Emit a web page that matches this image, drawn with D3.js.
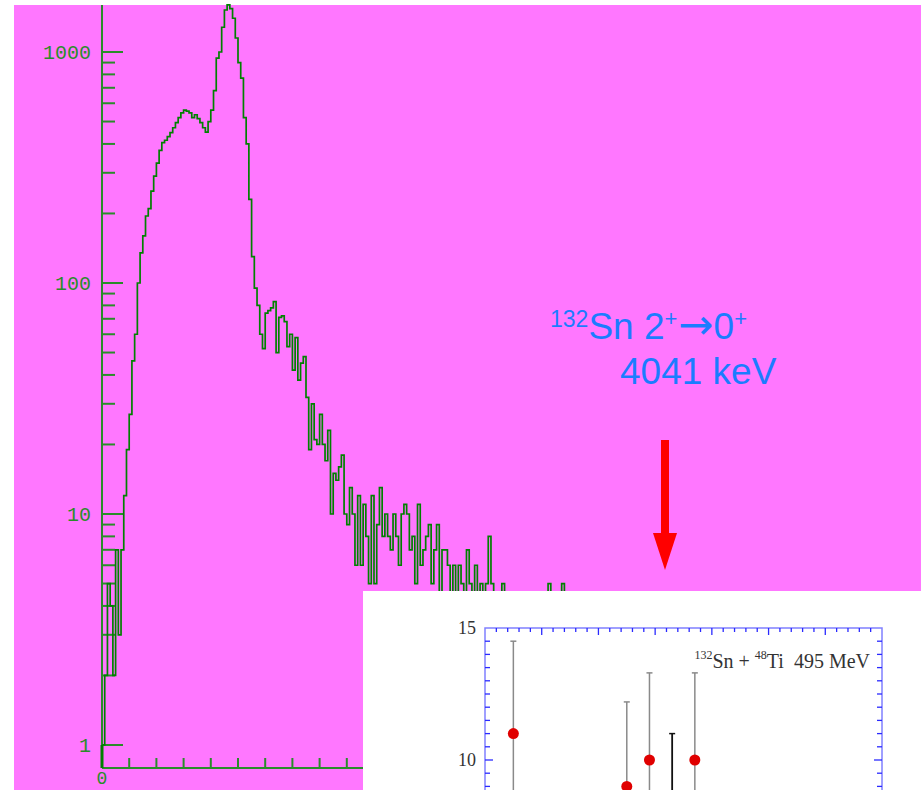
<!DOCTYPE html>
<html><head><meta charset="utf-8">
<script src="https://cdn.jsdelivr.net/npm/d3@7"></script>
<style>html,body{margin:0;padding:0;background:#fff;} svg{display:block;}</style>
</head><body>
<svg id="chart" width="921" height="790"></svg>
<script>
// Gamma-ray energy spectrum, counts per 20 keV bin starting at 0 (x in MeV)
const binWidth = 0.02;
const counts = [
  1, 2, 5, 4, 2, 7, 3, 7, 12, 19,
  27, 46, 60, 100, 135, 160, 195, 210, 250, 290,
  330, 375, 405, 415, 430, 448, 470, 495, 520, 545,
  560, 555, 545, 520, 535, 515, 495, 470, 450, 500,
  560, 680, 940, 1000, 1280, 1520, 1600, 1540, 1400, 1150,
  900, 770, 520, 400, 230, 130, 95, 80, 60, 52,
  74, 76, 78, 83, 50, 71, 72, 68, 53, 60,
  42, 58, 38, 45, 48, 32, 19, 30, 21, 20,
  27, 20, 17, 23, 10, 15, 14, 16, 18, 10,
  9, 13, 10, 6, 12, 6, 11, 8, 5, 12,
  5, 9, 13, 8, 10, 8, 7, 10, 8, 6,
  10, 11, 10, 7, 8, 5, 11, 6, 7, 8,
  9, 5, 7, 9, 4, 7, 7, 6, 4, 6,
  4, 6, 5, 3, 7, 5, 4, 6, 3, 5,
  4, 5, 8, 5, 3, 4, 2, 5, 3, 2,
  3, 2, 3, 2, 3, 1, 2, 3, 2, 1,
  2, 3, 2, 1, 5, 2, 1, 2, 3, 5,
  1, 2, 1, 2, 1
];
const yMajorTicks = [1, 10, 100, 1000];
const yTickLabels = ["1", "10", "100", "1000"];
const xMajorTicks = [0];
const xTickLabels = ["0"];

// Inset: counts per 40 keV bin around the 4041 keV line
const insetEnergy = [3750, 3950, 3990, 4070];
const insetCounts = [11, 9, 10, 10];
const insetUpper = [14.5, 12.2, 13.3, 13.3];
const insetLineEnergy = [4030];
const insetLineTop = [11.0];
const insetYTickLabels = ["10", "15"];
const insetYTickValues = [10, 15];

const W = 921, H = 790;
const pink = "#ff77ff";
const axisGreen = "#2a8c2a";
const histGreen = "#008000";
const blue = "#1b7cff";

const svg = d3.select("#chart");

// page background
svg.append("rect").attr("width", W).attr("height", H).attr("fill", "#fff");
svg.append("rect").attr("x", 14).attr("y", 5).attr("width", W - 14).attr("height", H - 5).attr("fill", pink);

// main scales
const x = d3.scaleLinear().domain([0, 2]).range([102, 374]);
const y = d3.scaleLog().domain([1, 1000]).range([745, 52]);
const yFloor = 768;

// axes
const gAx = svg.append("g").attr("stroke", axisGreen).attr("stroke-width", 2);
gAx.append("line").attr("x1", x(0)).attr("x2", x(0)).attr("y1", 5).attr("y2", yFloor);
gAx.append("line").attr("x1", x(0)).attr("x2", W).attr("y1", yFloor).attr("y2", yFloor);

// y ticks: decades long, 2..9 short
const yMinor = [];
[1, 10, 100].forEach(d => { for (let k = 2; k <= 9; k++) yMinor.push(d * k); });
gAx.selectAll(".ymin").data(yMinor).join("line")
  .attr("x1", x(0)).attr("x2", x(0) + 13)
  .attr("y1", d => y(d)).attr("y2", d => y(d));
gAx.selectAll(".ymaj").data(yMajorTicks).join("line")
  .attr("x1", x(0)).attr("x2", x(0) + 21)
  .attr("y1", d => y(d)).attr("y2", d => y(d));

// x ticks every 0.2
const xMinor = d3.range(0.2, 6.01, 0.2);
gAx.selectAll(".xmin").data(xMinor).join("line")
  .attr("x1", d => x(d)).attr("x2", d => x(d))
  .attr("y1", yFloor).attr("y2", yFloor - 10);

const lblFont = "'Liberation Mono', 'DejaVu Sans Mono', monospace";
svg.append("g").selectAll("text").data(yMajorTicks).join("text")
  .attr("x", 91).attr("y", d => y(d) + 6.5)
  .attr("text-anchor", "end")
  .attr("font-family", lblFont).attr("font-size", 20)
  .attr("fill", axisGreen)
  .text((d, i) => yTickLabels[i]);
svg.append("g").selectAll("text").data(xMajorTicks).join("text")
  .attr("x", d => x(d)).attr("y", 784)
  .attr("text-anchor", "middle")
  .attr("font-family", lblFont).attr("font-size", 18)
  .attr("fill", axisGreen)
  .text((d, i) => xTickLabels[i]);

// histogram as a step outline
const pts = counts.map((c, i) => [i * binWidth, c]);
pts.push([counts.length * binWidth, counts[counts.length - 1]]);
const stepLine = d3.line()
  .x(d => x(d[0]))
  .y(d => y(d[1]))
  .curve(d3.curveStepAfter);
svg.append("path")
  .attr("d", stepLine(pts))
  .attr("fill", "none").attr("stroke", histGreen).attr("stroke-width", 1.7)
  .attr("stroke-linejoin", "miter");
svg.append("line").attr("x1", x(0)).attr("x2", x(0))
  .attr("y1", yFloor).attr("y2", y(counts[0]))
  .attr("stroke", histGreen).attr("stroke-width", 3);

// annotation
const tf = "'Liberation Sans', Arial, sans-serif";
const t1 = svg.append("text").attr("x", 550).attr("y", 339)
  .attr("font-family", tf).attr("font-size", 37).attr("fill", blue);
t1.append("tspan").attr("font-size", 23).attr("dy", -12).text("132");
t1.append("tspan").attr("dy", 12).text("Sn 2");
t1.append("tspan").attr("font-size", 22).attr("dy", -13).text("+");
t1.append("tspan").attr("dy", 13).attr("font-family", "'DejaVu Sans', sans-serif")
  .attr("font-size", 42).attr("dx", 1).text("\u2192");
t1.append("tspan").text("0");
t1.append("tspan").attr("font-size", 22).attr("dy", -13).text("+");
svg.append("text").attr("x", 620).attr("y", 384)
  .attr("font-family", tf).attr("font-size", 37).attr("fill", blue)
  .text("4041 keV");

// red arrow pointing down
svg.append("rect").attr("x", 661).attr("y", 440).attr("width", 8).attr("height", 94).attr("fill", "#ff0000");
svg.append("path").attr("d", "M653,533 L677,533 L665,570 Z").attr("fill", "#ff0000");

// ---------- inset ----------
const ins = svg.append("g");
ins.append("rect").attr("x", 363).attr("y", 591).attr("width", W - 363).attr("height", H - 591).attr("fill", "#fff");

const ix = d3.scaleLinear().domain([3700, 4400]).range([485, 882]);
const iy = d3.scaleLinear().domain([10, 15]).range([760, 628]);
const fTop = iy(15), fBot = 900;

const tickBlue = "#2a2aff";
ins.append("rect").attr("x", ix(3700)).attr("y", fTop)
  .attr("width", ix(4400) - ix(3700)).attr("height", fBot - fTop)
  .attr("fill", "none").attr("stroke", "#8080ff").attr("stroke-width", 1.5);

const gT = ins.append("g").attr("stroke", tickBlue).attr("stroke-width", 1.3);
const exTicks = d3.range(3720, 4400, 20);
gT.selectAll(".tx").data(exTicks).join("line")
  .attr("x1", d => ix(d)).attr("x2", d => ix(d))
  .attr("y1", fTop).attr("y2", d => fTop + (d % 100 === 0 ? 7 : 4));
const eyTicks = d3.range(0, 15, 0.5).filter(v => v > 0);
gT.selectAll(".tyl").data(eyTicks).join("line")
  .attr("x1", ix(3700)).attr("x2", d => ix(3700) + (d % 5 === 0 ? 8 : 5))
  .attr("y1", d => iy(d)).attr("y2", d => iy(d));
gT.selectAll(".tyr").data(eyTicks).join("line")
  .attr("x1", ix(4400)).attr("x2", d => ix(4400) - (d % 5 === 0 ? 8 : 5))
  .attr("y1", d => iy(d)).attr("y2", d => iy(d));

const serif = "'Liberation Serif', 'Times New Roman', serif";
ins.selectAll(".yl").data(insetYTickValues).join("text")
  .attr("x", 476).attr("y", d => iy(d) + 6)
  .attr("text-anchor", "end").attr("font-family", serif).attr("font-size", 18)
  .attr("fill", "#333").text((d, i) => insetYTickLabels[i]);

// error bars
const eb = ins.append("g").attr("stroke", "#8a8a8a").attr("stroke-width", 1.5);
insetEnergy.forEach((e, i) => {
  const lo = insetCounts[i] - (insetUpper[i] - insetCounts[i]);
  eb.append("line").attr("x1", ix(e)).attr("x2", ix(e)).attr("y1", iy(insetUpper[i])).attr("y2", iy(lo));
  eb.append("line").attr("x1", ix(e) - 3).attr("x2", ix(e) + 3).attr("y1", iy(insetUpper[i])).attr("y2", iy(insetUpper[i]));
});
insetLineEnergy.forEach((e, i) => {
  ins.append("line").attr("x1", ix(e)).attr("x2", ix(e)).attr("y1", iy(insetLineTop[i])).attr("y2", fBot)
    .attr("stroke", "#111").attr("stroke-width", 1.8);
  ins.append("line").attr("x1", ix(e) - 3).attr("x2", ix(e) + 3).attr("y1", iy(insetLineTop[i])).attr("y2", iy(insetLineTop[i]))
    .attr("stroke", "#111").attr("stroke-width", 1.5);
});
ins.selectAll(".dot").data(insetEnergy).join("circle")
  .attr("cx", d => ix(d)).attr("cy", (d, i) => iy(insetCounts[i])).attr("r", 5.5)
  .attr("fill", "#e00000");

const lab = ins.append("text").attr("x", 870).attr("y", 668).attr("text-anchor", "end")
  .attr("font-family", serif).attr("font-size", 20).attr("fill", "#333")
  .attr("xml:space", "preserve");
lab.append("tspan").attr("font-size", 12).attr("dy", -9).text("132");
lab.append("tspan").attr("dy", 9).text("Sn + ");
lab.append("tspan").attr("font-size", 12).attr("dy", -9).text("48");
lab.append("tspan").attr("dy", 9).text("Ti  495 MeV");
</script>
</body></html>
